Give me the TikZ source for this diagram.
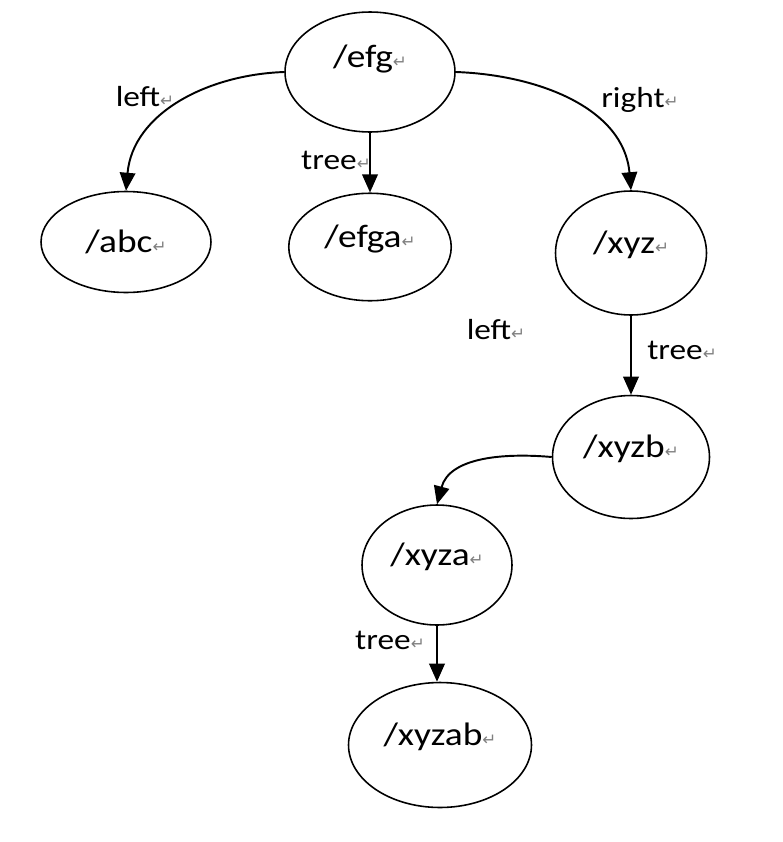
\documentclass[tikz,border=0pt]{standalone}
\usepackage{fontspec}
\setmainfont{Carlito}[FakeStretch=1.15]
\newfontfamily\markfont{DejaVu Sans}
\usetikzlibrary{shapes.geometric,arrows.meta}
\newcommand{\pmark}{{\markfont\fontsize{9.5}{9.5}\selectfont\color{gray}↵}}

\begin{document}
\begin{tikzpicture}[x=0.02cm, y=-0.02cm]
	\tikzset{
		mynode/.style={ellipse, draw=black, line width=0.9pt, inner sep=0pt, text height=0.3cm, text depth=0.3cm, font=\fontsize{18.5}{22}\selectfont},
		myarrow/.style={-{Triangle[length=3.6mm,width=3.1mm]}, line width=1.1pt},
		mylabel/.style={inner sep=0pt, font=\fontsize{16.5}{20}\selectfont}
	}
	\useasboundingbox (0,0) rectangle (782,842);
	% nodes
	\node[mynode, minimum width=3.4cm, minimum height=2.4cm, text height=0.2cm, text depth=0.4cm] (efg) at (370,72) {/efg\pmark};
	\node[mynode, minimum width=3.4cm, minimum height=2.02cm, text height=0.5cm, text depth=0.1cm] (abc) at (126,242) {/abc\pmark};
	\node[mynode, minimum width=3.25cm, minimum height=2.15cm] (efga) at (370,247) {/efga\pmark};
	\node[mynode, minimum width=3.02cm, minimum height=2.48cm] (xyz) at (631,253) {/xyz\pmark};
	\node[mynode, minimum width=3.14cm, minimum height=2.46cm] (xyzb) at (631,457) {/xyzb\pmark};
	\node[mynode, minimum width=3.0cm, minimum height=2.4cm] (xyza) at (437,565) {/xyza\pmark};
	\node[mynode, minimum width=3.66cm, minimum height=2.5cm] (xyzab) at (440,745) {/xyzab\pmark};
	% arrows
	\draw[myarrow] (efg.west) to[out=182, in=85] (abc.north);
	\draw[myarrow] (efg.south) -- (efga.north);
	\draw[myarrow] (efg.east) to[out=-2, in=95] (xyz.north);
	\draw[myarrow] (xyz.south) -- (xyz.south |- xyzb.north);
	\draw[myarrow] (xyzb.west) to[out=175, in=75] (xyza.north);
	\draw[myarrow] (xyza.south) -- (xyza.south |- xyzab.north);
	% labels
	\node[mylabel] (l1) at (145,97) {left\pmark};
	\node[mylabel] (t1) at (336,160) {tree\pmark};
	\node[mylabel] (r1) at (640,100) {right\pmark};
	\node[mylabel] (l2) at (496,330) {left\pmark};
	\node[mylabel] (t2) at (682,350) {tree\pmark};
	\node[mylabel] (t3) at (390,640) {tree\pmark};
\end{tikzpicture}
\end{document}
